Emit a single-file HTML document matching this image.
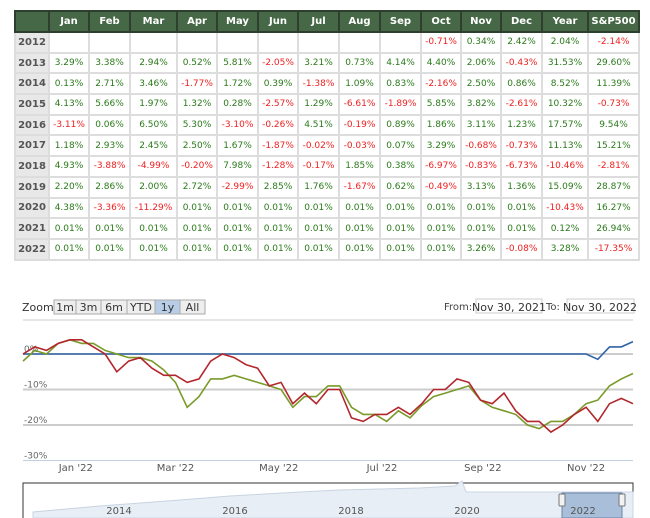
<!DOCTYPE html>
<html><head><meta charset="utf-8"><style>
body{margin:0;width:650px;height:518px;background:#fff;font-family:"DejaVu Sans","Liberation Sans",sans-serif;position:relative;overflow:hidden}
table{position:absolute;left:14px;top:10px;border-collapse:collapse;table-layout:fixed;font-size:9px}
td,th{border:2px solid #ddd;height:18.7px;padding:0;text-align:center}
th{background:#466846;color:#fff;font-weight:bold;font-size:10px;border-color:#2f3f2f;height:19px}
td.y{background:#e8e8e8;font-weight:bold;color:#555;font-size:10px}
.g{color:#2a7a1a}.r{color:#f02020}
svg{position:absolute;left:0;top:0}
</style></head><body>
<table>
<colgroup><col style="width:34px"><col style="width:40px"><col style="width:41px"><col style="width:47px"><col style="width:40px"><col style="width:41px"><col style="width:40px"><col style="width:41px"><col style="width:41px"><col style="width:41px"><col style="width:40px"><col style="width:40px"><col style="width:41px"><col style="width:46px"><col style="width:51px"></colgroup>
<tbody id="tb"></tbody></table>
<svg id="ch" width="650" height="518"></svg>
<script>
const months=["","Jan","Feb","Mar","Apr","May","Jun","Jul","Aug","Sep","Oct","Nov","Dec","Year","S&P500"];
const rows=[
["2012","","","","","","","","","","-0.71","0.34","2.42","2.04","-2.14"],
["2013","3.29","3.38","2.94","0.52","5.81","-2.05","3.21","0.73","4.14","4.40","2.06","-0.43","31.53","29.60"],
["2014","0.13","2.71","3.46","-1.77","1.72","0.39","-1.38","1.09","0.83","-2.16","2.50","0.86","8.52","11.39"],
["2015","4.13","5.66","1.97","1.32","0.28","-2.57","1.29","-6.61","-1.89","5.85","3.82","-2.61","10.32","-0.73"],
["2016","-3.11","0.06","6.50","5.30","-3.10","-0.26","4.51","-0.19","0.89","1.86","3.11","1.23","17.57","9.54"],
["2017","1.18","2.93","2.45","2.50","1.67","-1.87","-0.02","-0.03","0.07","3.29","-0.68","-0.73","11.13","15.21"],
["2018","4.93","-3.88","-4.99","-0.20","7.98","-1.28","-0.17","1.85","0.38","-6.97","-0.83","-6.73","-10.46","-2.81"],
["2019","2.20","2.86","2.00","2.72","-2.99","2.85","1.76","-1.67","0.62","-0.49","3.13","1.36","15.09","28.87"],
["2020","4.38","-3.36","-11.29","0.01","0.01","0.01","0.01","0.01","0.01","0.01","0.01","0.01","-10.43","16.27"],
["2021","0.01","0.01","0.01","0.01","0.01","0.01","0.01","0.01","0.01","0.01","0.01","0.01","0.12","26.94"],
["2022","0.01","0.01","0.01","0.01","0.01","0.01","0.01","0.01","0.01","0.01","3.26","-0.08","3.28","-17.35"]];
const tb=document.getElementById('tb');
let h='<tr>'+months.map(m=>'<th>'+m.replace('&','&amp;')+'</th>').join('')+'</tr>';
rows.forEach(r=>{h+='<tr><td class="y">'+r[0]+'</td>'+r.slice(1).map(v=>'<td class="'+(v.startsWith('-')?'r':'g')+'">'+(v?v+'%':'')+'</td>').join('')+'</tr>';});
tb.innerHTML=h;

const redVals=[0,2,1,3,4,4,2,0,-5,-2,-1,-4,-6,-6,-8,-7,-2,0,-1,-3,-4,-9,-8,-14,-11,-14,-10,-10,-18,-19,-17,-17,-15,-17,-14,-10,-10,-7,-8,-13,-14,-11,-16,-19,-19,-22,-20,-17,-15,-19,-14,-12.5,-14];
const greenVals=[-2,1,0,3,4,3,3,1,0,-1,-1,-2,-4.5,-8,-15,-12,-7,-7,-6,-7,-8,-9,-10,-15,-12,-12,-9,-9,-15,-17,-17,-19,-16,-18,-14.5,-12,-11,-10,-9,-13,-15,-16,-17,-20,-21,-19,-19,-17,-14,-13,-9,-7,-5.5];
const blueVals=[0,0,0,0,0,0,0,0,0,0,0,0,0,0,0,0,0,0,0,0,0,0,0,0,0,0,0,0,0,0,0,0,0,0,0,0,0,0,0,0,0,0,0,0,0,0,0,0,0,-1.5,2,2,3.5];
const yTicks=[0,-10,-20,-30];
const xLabels=["Jan '22","Mar '22","May '22","Jul '22","Sep '22","Nov '22"];
const xLabelWeeks=[4.5,13,21.8,30.6,39.2,48];
const navYears=["2014","2016","2018","2020","2022"];
const X0=23,X1=633;
const xs=i=>X0+(X1-X0)*i/52;
const ys=v=>354-v*3.55;
const svg=document.getElementById('ch');const NS='http://www.w3.org/2000/svg';
function el(t,a,txt){const e=document.createElementNS(NS,t);for(const k in a)e.setAttribute(k,a[k]);if(txt!=null)e.textContent=txt;svg.appendChild(e);return e;}
let e;
e=el('line',{x1:X0,x2:X1,y1:320,y2:320,stroke:'#ccc'});


yTicks.forEach(t=>{
e=el('line',{x1:X0,x2:X1,y1:ys(t),y2:ys(t),stroke:t==-30?'#c0d0e0':'#ccc','stroke-width':t==-30?1:2});


e=el('text',{x:X0+1,y:ys(t)-2,'font-size':9,fill:'#666','font-family':'DejaVu Sans,sans-serif'},t<0?'-'+Math.abs(t)+'%':'0%');


});
xLabels.forEach((l,i)=>{
e=el('text',{x:xs(xLabelWeeks[i]),y:471,'font-size':10,fill:'#555','text-anchor':'middle','font-family':'DejaVu Sans,sans-serif'},l);


});
function line(vals,col,name){const d=vals.map((v,i)=>(i?'L':'M')+xs(i).toFixed(1)+' '+ys(v).toFixed(1)).join(' ');
const p=el('path',{d:d,fill:'none',stroke:col,'stroke-width':1.6});

}
line(blueVals,'#2f64a8','series-portfolio');
line(greenVals,'#7a9a2a','series-benchmark');
line(redVals,'#b3262c','series-sp500');
e=el('text',{x:22,y:311,'font-size':11,fill:'#333','font-family':'DejaVu Sans,sans-serif'},'Zoom');


const btns=[["1m",54,76],["3m",76,101],["6m",101,127],["YTD",127,155],["1y",155,180],["All",180,205]];
btns.forEach(b=>{
const g=el('g',{});


const r=document.createElementNS(NS,'rect');r.setAttribute('x',b[1]);r.setAttribute('y',300);r.setAttribute('width',b[2]-b[1]);r.setAttribute('height',14);r.setAttribute('fill',b[0]=='1y'?'#b8cde8':'#eee');r.setAttribute('stroke','#aaa');g.appendChild(r);
const t=document.createElementNS(NS,'text');t.setAttribute('x',(b[1]+b[2])/2);t.setAttribute('y',311);t.setAttribute('text-anchor','middle');t.setAttribute('font-size',11);t.setAttribute('fill','#333');t.setAttribute('font-family','DejaVu Sans,sans-serif');t.textContent=b[0];g.appendChild(t);
});
e=el('text',{x:444,y:310,'font-size':10,fill:'#444','font-family':'DejaVu Sans,sans-serif'},'From:');


e=el('rect',{x:476,y:299,width:66,height:14,fill:'#fff',stroke:'#ccc'});


e=el('text',{x:509,y:311,'font-size':11,fill:'#333','text-anchor':'middle','font-family':'DejaVu Sans,sans-serif'},'Nov 30, 2021');


e=el('text',{x:546,y:310,'font-size':10,fill:'#444','font-family':'DejaVu Sans,sans-serif'},'To:');


e=el('rect',{x:567,y:299,width:67,height:14,fill:'#fff',stroke:'#ccc'});


e=el('text',{x:600,y:311,'font-size':11,fill:'#333','text-anchor':'middle','font-family':'DejaVu Sans,sans-serif'},'Nov 30, 2022');


e=el('rect',{x:X0,y:483,width:X1-X0,height:40,fill:'#fff',stroke:'#333'});


e=el('path',{d:'M33 518 L33 512 L100 506 L180 500 L230 496 L300 492 L340 490 L380 489 L420 488 L455 486 L462 481 L466 492 L633 492 L633 518 Z',fill:'#e8eef5',stroke:'#c8d4e2'});


e=el('rect',{x:562,y:493,width:60,height:25,fill:'#a9bfd9',stroke:'#6a86aa'});


[562,622].forEach(x=>{e=el('rect',{x:x-3,y:494,width:6,height:12,fill:'#f2f2f2',stroke:'#777',rx:1});

});
navYears.forEach((y,i)=>{
e=el('text',{x:119+116*i,y:514,'font-size':10,fill:'#555','text-anchor':'middle','font-family':'DejaVu Sans,sans-serif'},y);


});
</script>
</body></html>
